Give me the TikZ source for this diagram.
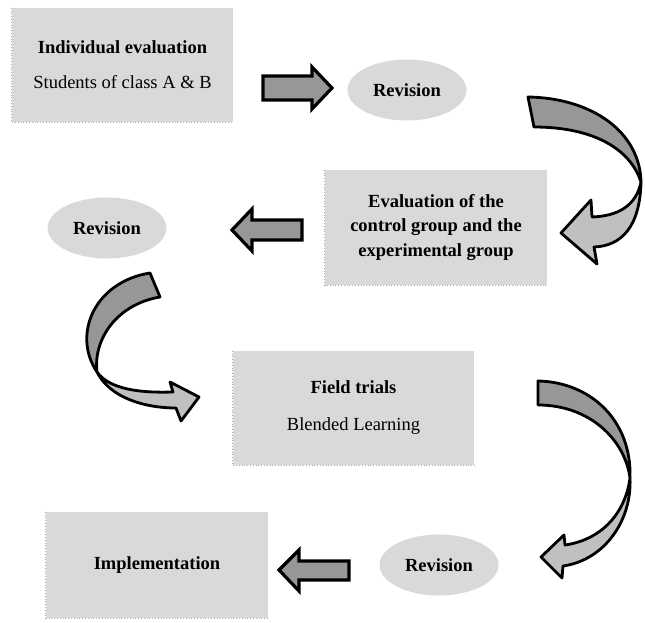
\documentclass[tikz,border=0pt]{standalone}
\usepackage{fontspec}
\setmainfont{Liberation Serif}
\usetikzlibrary{shapes.geometric}
\definecolor{boxgray}{HTML}{D9D9D9}
\definecolor{arrowdark}{HTML}{979797}
\definecolor{arrowlight}{HTML}{C0C0C0}
\begin{document}
\begin{tikzpicture}[x=1pt,y=-1pt,
  boxstyle/.style={fill=boxgray,inner sep=0pt,align=center},
  ellstyle/.style={ellipse,fill=boxgray,inner sep=0pt,minimum width=119pt,minimum height=61pt,font=\bfseries\fontsize{18.5}{22}\selectfont},
  blockarrow/.style={fill=arrowdark,draw=black,line width=3.2pt,line join=miter},
  darkpart/.style={fill=arrowdark,draw=black,line width=2.8pt,line join=round},
  lightpart/.style={fill=arrowlight,draw=black,line width=2.8pt,line join=round},
  dotline/.style={draw=gray!70,dotted,line width=0.8pt}]
\useasboundingbox (0,0) rectangle (645,623);
\fill[white] (0,0) rectangle (645,623);

% boxes
\node[boxstyle,minimum width=221pt,minimum height=114pt,font=\fontsize{18.5}{35}\selectfont] (b1) at (122.5,65)
  {\textbf{Individual evaluation}\\Students of class A \& B};
\node[boxstyle,minimum width=222pt,minimum height=115pt,font=\bfseries\fontsize{18.5}{24.5}\selectfont] (b2) at (436,227.5)
  {Evaluation of the\\control group and the\\experimental group};
\node[boxstyle,minimum width=241pt,minimum height=114pt,font=\fontsize{18.5}{37}\selectfont] (b3) at (353.5,408)
  {\textbf{Field trials}\\Blended Learning};
\node[boxstyle,minimum width=222pt,minimum height=106pt,font=\bfseries\fontsize{18.5}{22}\selectfont] (b4) at (157,565)
  {Implementation};

\foreach \b in {b1,b2,b3,b4}{
  \draw[dotline] (\b.north west) -- (\b.south west) -- (\b.south east);
}

% ellipses
\node[ellstyle] (e1) at (407,90) {Revision};
\node[ellstyle] (e2) at (107,228) {Revision};
\node[ellstyle] (e3) at (439,565) {Revision};

% straight block arrows
\draw[blockarrow] (263,76) -- (312,76) -- (312,67) -- (332,88) -- (312,109) -- (312,100) -- (263,100) -- cycle;
\draw[blockarrow] (302,220) -- (252,220) -- (252,209) -- (232,230) -- (252,251) -- (252,240) -- (302,240) -- cycle;
\draw[blockarrow] (349,561) -- (299,561) -- (299,550) -- (279,570) -- (299,591) -- (299,580) -- (349,580) -- cycle;

% curved arrow 1 (top right)
\draw[darkpart] (528,97) .. controls (592,98) and (640,132) .. (641,182)
  .. controls (630,148) and (592,127) .. (534,127) -- cycle;
\draw[lightpart] (641,182) .. controls (640,226) and (622,246) .. (594,247)
  -- (597,264) -- (561,233) -- (591,200) -- (592,217)
  .. controls (618,216) and (636,206) .. (641,182) -- cycle;

% curved arrow 2 (left)
\draw[darkpart] (150,273) .. controls (94,282) and (72,335) .. (97,372)
  .. controls (93,338) and (118,304) .. (160,297) -- cycle;
\draw[lightpart] (97,372) .. controls (110,398) and (145,408) .. (176,408)
  -- (181,421) -- (199,397) -- (170,382) -- (173,392)
  .. controls (142,393) and (110,390) .. (97,372) -- cycle;

% curved arrow 3 (bottom right)
\draw[darkpart] (538,381) .. controls (590,382) and (632,420) .. (630,478)
  .. controls (625,440) and (590,405) .. (538,405) -- cycle;
\draw[lightpart] (630,478) .. controls (632,520) and (605,560) .. (563,566)
  -- (562,578) -- (541,557) -- (564,535) -- (565,545)
  .. controls (600,540) and (625,515) .. (630,478) -- cycle;
\end{tikzpicture}
\end{document}
